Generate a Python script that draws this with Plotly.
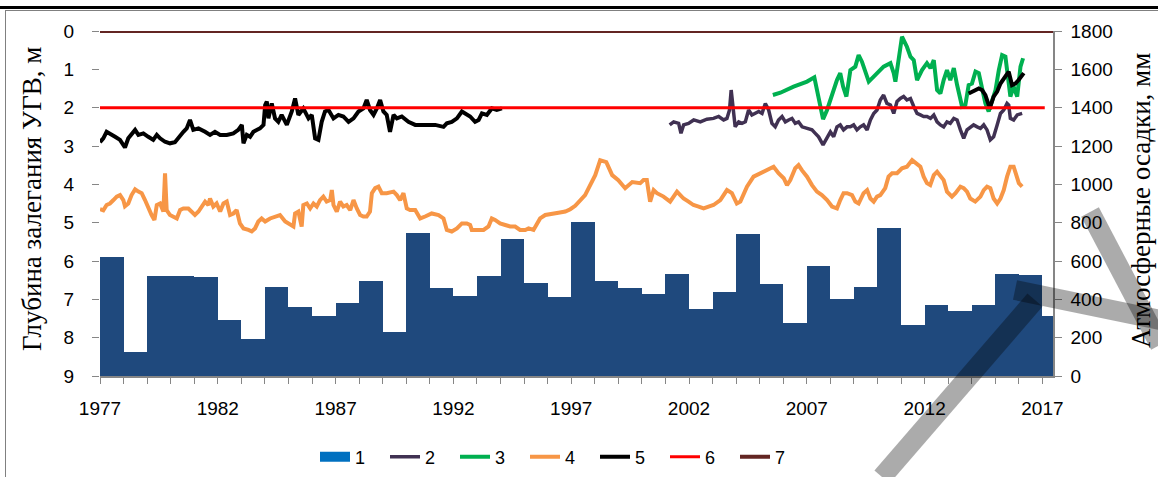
import plotly.graph_objects as go

# ---------------- data ----------------
bar_years = list(range(1977, 2018))
precip_mm = [622, 127, 523, 520, 515, 292, 193, 463, 358, 311,
             379, 496, 228, 745, 458, 416, 520, 713, 484, 411,
             802, 496, 458, 426, 532, 350, 437, 739, 478, 275,
             572, 400, 463, 771, 264, 369, 339, 369, 532, 525, 311]

s2_years = [2001.18, 2001.35, 2001.56, 2001.66, 2001.77, 2001.98, 2002.20, 2002.48, 2002.76, 2003.04,
            2003.26, 2003.47, 2003.61, 2003.72, 2003.79, 2003.87, 2003.96, 2004.11, 2004.25, 2004.39,
            2004.53, 2004.67, 2004.81, 2004.96, 2005.10, 2005.24, 2005.38, 2005.52, 2005.66, 2005.80,
            2005.95, 2006.09, 2006.23, 2006.37, 2006.51, 2006.65, 2006.80, 2007.01, 2007.22, 2007.36,
            2007.50, 2007.69, 2007.86, 2008.00, 2008.14, 2008.28, 2008.42, 2008.56, 2008.71, 2008.85,
            2008.99, 2009.13, 2009.27, 2009.41, 2009.56, 2009.70, 2009.84, 2009.98, 2010.12, 2010.26,
            2010.40, 2010.55, 2010.69, 2010.83, 2010.97, 2011.11, 2011.25, 2011.40, 2011.54, 2011.68,
            2011.82, 2011.96, 2012.10, 2012.25, 2012.39, 2012.53, 2012.67, 2012.81, 2012.95, 2013.09,
            2013.24, 2013.38, 2013.52, 2013.66, 2013.80, 2013.94, 2014.08, 2014.23, 2014.37, 2014.51,
            2014.65, 2014.79, 2014.93, 2015.08, 2015.22, 2015.36, 2015.50, 2015.57, 2015.64, 2015.78,
            2015.93, 2016.14]
s2_depth = [2.45, 2.37, 2.41, 2.67, 2.45, 2.41, 2.32, 2.37, 2.30, 2.28,
            2.23, 2.32, 2.28, 2.06, 1.54, 1.97, 2.50, 2.37, 2.41, 2.37,
            2.06, 2.19, 2.15, 2.10, 2.15, 1.89, 2.06, 2.41, 2.50, 2.32,
            2.23, 2.37, 2.32, 2.28, 2.41, 2.37, 2.50, 2.54, 2.58, 2.67,
            2.76, 2.97, 2.76, 2.63, 2.76, 2.50, 2.45, 2.58, 2.50, 2.50,
            2.45, 2.58, 2.50, 2.45, 2.58, 2.32, 2.15, 2.06, 1.80, 1.67,
            1.89, 1.93, 2.15, 1.84, 1.76, 1.71, 1.80, 1.76, 1.97, 2.15,
            2.19, 2.23, 2.23, 2.28, 2.19, 2.37, 2.45, 2.50, 2.37, 2.41,
            2.28, 2.32, 2.58, 2.80, 2.58, 2.50, 2.45, 2.50, 2.54, 2.45,
            2.58, 2.84, 2.76, 2.45, 2.15, 2.06, 1.89, 1.93, 2.28, 2.32,
            2.19, 2.15]

s3_years = [2005.56, 2005.88, 2006.44, 2007.01, 2007.32, 2007.50, 2007.69, 2007.86, 2008.07, 2008.28,
            2008.42, 2008.54, 2008.68, 2008.85, 2009.06, 2009.20, 2009.34, 2009.48, 2009.63, 2009.84,
            2010.05, 2010.26, 2010.55, 2010.69, 2010.76, 2010.90, 2011.04, 2011.25, 2011.40, 2011.54,
            2011.68, 2011.89, 2012.10, 2012.25, 2012.39, 2012.53, 2012.67, 2012.81, 2012.95, 2013.09,
            2013.24, 2013.38, 2013.59, 2013.73, 2013.87, 2014.01, 2014.16, 2014.30, 2014.44, 2014.58,
            2014.72, 2014.86, 2015.01, 2015.15, 2015.29, 2015.43, 2015.53, 2015.64, 2015.78, 2015.93,
            2016.07, 2016.18]
s3_depth = [1.67, 1.61, 1.45, 1.32, 1.21, 1.71, 2.30, 2.06, 1.63, 1.28,
            1.10, 1.45, 1.71, 1.02, 0.93, 0.63, 0.80, 1.02, 1.32, 1.19,
            1.06, 0.93, 0.84, 1.10, 1.32, 0.67, 0.15, 0.41, 0.67, 0.76,
            1.28, 1.02, 0.84, 0.97, 0.76, 1.54, 1.63, 1.28, 1.02, 1.28,
            0.97, 1.41, 1.97, 1.93, 1.41, 1.37, 1.06, 1.10, 1.50, 1.89,
            2.10, 1.80, 1.54, 1.02, 0.63, 0.67, 1.28, 1.71, 1.45, 1.71,
            0.93, 0.71]

s4_years = [1977.00, 1977.14, 1977.28, 1977.42, 1977.57, 1977.71, 1977.85, 1977.99, 1978.06, 1978.20,
            1978.34, 1978.49, 1978.63, 1978.77, 1978.91, 1979.05, 1979.19, 1979.31, 1979.41, 1979.55,
            1979.69, 1979.76, 1979.83, 1979.97, 1980.11, 1980.26, 1980.40, 1980.54, 1980.75, 1980.89,
            1981.03, 1981.18, 1981.32, 1981.46, 1981.60, 1981.67, 1981.81, 1981.95, 1982.10, 1982.24,
            1982.38, 1982.52, 1982.66, 1982.80, 1982.94, 1983.09, 1983.30, 1983.44, 1983.58, 1983.72,
            1983.86, 1984.01, 1984.22, 1984.43, 1984.64, 1984.86, 1985.07, 1985.21, 1985.28, 1985.42,
            1985.56, 1985.63, 1985.78, 1985.92, 1986.06, 1986.20, 1986.34, 1986.48, 1986.62, 1986.77,
            1986.84, 1986.91, 1987.05, 1987.19, 1987.33, 1987.47, 1987.62, 1987.76, 1987.90, 1988.04,
            1988.18, 1988.32, 1988.46, 1988.54, 1988.68, 1988.82, 1988.96, 1989.17, 1989.46, 1989.60,
            1989.74, 1989.88, 1990.02, 1990.16, 1990.38, 1990.59, 1990.80, 1991.08, 1991.37, 1991.58,
            1991.72, 1991.93, 1992.15, 1992.36, 1992.57, 1992.71, 1992.78, 1992.99, 1993.28, 1993.49,
            1993.63, 1993.77, 1993.98, 1994.20, 1994.41, 1994.62, 1994.83, 1995.05, 1995.19, 1995.40,
            1995.54, 1995.68, 1995.90, 1996.18, 1996.46, 1996.75, 1996.96, 1997.17, 1997.59, 1998.02,
            1998.23, 1998.49, 1998.74, 1999.00, 1999.29, 1999.59, 1999.93, 2000.07, 2000.21, 2000.35,
            2000.50, 2000.64, 2000.92, 2001.20, 2001.49, 2001.63, 2001.77, 2001.98, 2002.19, 2002.41,
            2002.62, 2002.83, 2003.04, 2003.33, 2003.61, 2003.82, 2004.03, 2004.18, 2004.46, 2004.74,
            2005.03, 2005.31, 2005.59, 2005.80, 2006.02, 2006.16, 2006.30, 2006.51, 2006.65, 2006.79,
            2007.01, 2007.22, 2007.43, 2007.64, 2007.86, 2008.07, 2008.28, 2008.42, 2008.56, 2008.71,
            2008.92, 2009.06, 2009.20, 2009.41, 2009.56, 2009.70, 2009.84, 2009.98, 2010.12, 2010.33,
            2010.47, 2010.62, 2010.83, 2011.04, 2011.25, 2011.47, 2011.61, 2011.82, 2011.96, 2012.10,
            2012.24, 2012.39, 2012.53, 2012.67, 2012.81, 2012.95, 2013.16, 2013.31, 2013.52, 2013.66,
            2013.80, 2013.94, 2014.15, 2014.37, 2014.51, 2014.65, 2014.79, 2014.93, 2015.08, 2015.22,
            2015.36, 2015.50, 2015.64, 2015.78, 2015.93, 2016.00, 2016.14]
s4_depth = [4.65, 4.68, 4.54, 4.50, 4.41, 4.32, 4.28, 4.41, 4.57, 4.50,
            4.28, 4.13, 4.19, 4.23, 4.41, 4.63, 4.80, 4.93, 4.54, 4.50,
            4.71, 3.71, 4.67, 4.80, 4.84, 4.89, 4.67, 4.63, 4.63, 4.71,
            4.80, 4.71, 4.58, 4.45, 4.54, 4.37, 4.58, 4.50, 4.71, 4.50,
            4.45, 4.80, 4.76, 4.67, 5.02, 5.15, 5.19, 5.23, 5.15, 4.97,
            4.89, 4.97, 4.89, 4.84, 4.80, 4.97, 5.06, 5.10, 4.76, 4.71,
            5.10, 4.54, 4.50, 4.63, 4.50, 4.58, 4.41, 4.32, 4.45, 4.41,
            4.15, 4.54, 4.71, 4.45, 4.58, 4.54, 4.67, 4.41, 4.63, 4.80,
            4.84, 4.84, 4.71, 4.23, 4.10, 4.06, 4.23, 4.23, 4.19, 4.28,
            4.41, 4.23, 4.63, 4.67, 4.67, 4.89, 4.84, 4.76, 4.80, 4.89,
            5.19, 5.23, 5.15, 5.02, 5.02, 5.06, 5.19, 5.19, 5.19, 5.10,
            4.89, 4.93, 5.02, 5.06, 5.10, 5.10, 5.19, 5.19, 5.15, 5.19,
            5.06, 4.89, 4.80, 4.76, 4.74, 4.71, 4.65, 4.56, 4.28, 3.76,
            3.37, 3.42, 3.76, 3.89, 4.10, 3.94, 3.97, 3.89, 3.89, 4.45,
            4.15, 4.23, 4.32, 4.45, 4.19, 4.28, 4.37, 4.45, 4.54, 4.58,
            4.63, 4.58, 4.54, 4.41, 4.15, 4.23, 4.50, 4.45, 4.06, 3.80,
            3.71, 3.63, 3.54, 3.71, 3.84, 4.02, 3.89, 3.58, 3.50, 3.63,
            3.80, 4.02, 4.19, 4.28, 4.41, 4.58, 4.63, 4.41, 4.23, 4.23,
            4.28, 4.45, 4.50, 4.23, 4.15, 4.37, 4.45, 4.32, 4.28, 4.10,
            3.80, 3.71, 3.71, 3.58, 3.54, 3.37, 3.45, 3.54, 3.80, 3.97,
            4.02, 3.76, 3.67, 3.80, 3.89, 4.19, 4.32, 4.23, 4.06, 4.10,
            4.19, 4.37, 4.45, 4.32, 4.15, 4.06, 4.10, 4.37, 4.50, 4.37,
            4.15, 3.80, 3.54, 3.54, 3.80, 3.97, 4.06]

s5_years = [1977.00, 1977.14, 1977.28, 1977.42, 1977.64, 1977.85, 1978.06, 1978.20, 1978.34, 1978.49,
            1978.63, 1978.84, 1979.05, 1979.26, 1979.41, 1979.55, 1979.76, 1979.97, 1980.18, 1980.40,
            1980.54, 1980.68, 1980.82, 1980.96, 1981.18, 1981.46, 1981.67, 1981.88, 1982.10, 1982.38,
            1982.66, 1982.87, 1983.02, 1983.09, 1983.23, 1983.37, 1983.51, 1983.65, 1983.79, 1983.94,
            1984.01, 1984.08, 1984.15, 1984.29, 1984.43, 1984.57, 1984.71, 1984.93, 1985.14, 1985.28,
            1985.42, 1985.63, 1985.85, 1985.99, 1986.13, 1986.27, 1986.41, 1986.55, 1986.70, 1986.91,
            1987.12, 1987.33, 1987.55, 1987.76, 1987.97, 1988.18, 1988.32, 1988.46, 1988.61, 1988.75,
            1988.89, 1989.03, 1989.17, 1989.31, 1989.46, 1989.60, 1989.81, 1990.09, 1990.38, 1990.80,
            1991.23, 1991.58, 1991.72, 1991.93, 1992.15, 1992.36, 1992.50, 1992.71, 1992.92, 1993.07,
            1993.21, 1993.42, 1993.63, 1993.84, 1994.06, None,
            2013.87, 2014.08, 2014.30, 2014.44, 2014.58, 2014.72, 2014.79, 2014.93, 2015.08, 2015.22,
            2015.36, 2015.50, 2015.57, 2015.71, 2015.85, 2015.99, 2016.14, 2016.21]
s5_depth = [2.90, 2.80, 2.63, 2.67, 2.76, 2.84, 3.04, 2.80, 2.71, 2.58,
            2.71, 2.67, 2.76, 2.84, 2.71, 2.80, 2.89, 2.93, 2.90, 2.71,
            2.63, 2.54, 2.32, 2.58, 2.54, 2.63, 2.71, 2.63, 2.71, 2.71,
            2.67, 2.58, 2.45, 2.93, 2.71, 2.76, 2.63, 2.58, 2.54, 2.45,
            1.93, 1.84, 2.28, 1.89, 2.28, 2.37, 2.19, 2.45, 2.10, 1.76,
            2.19, 2.02, 2.28, 2.19, 2.80, 2.84, 2.37, 2.10, 2.06, 2.28,
            2.19, 2.23, 2.37, 2.28, 2.10, 2.02, 1.80, 2.06, 2.19, 2.02,
            1.80, 2.10, 2.19, 2.63, 2.19, 2.28, 2.23, 2.37, 2.45, 2.45,
            2.45, 2.50, 2.41, 2.37, 2.28, 2.10, 2.15, 2.23, 2.37, 2.32,
            2.15, 2.19, 2.02, 2.06, 2.02, None,
            1.63, 1.58, 1.50, 1.54, 1.67, 1.93, 1.97, 1.71, 1.58, 1.37,
            1.23, 1.10, 1.06, 1.41, 1.37, 1.28, 1.15, 1.10]

s6_years = [1977, 2017.1]
s6_depth = [2, 2]
s7_years = [1977, 2017.45]
s7_depth = [0, 0]

legend_names = ["1", "2", "3", "4", "5", "6", "7"]
colors = {"bar": "#1F497D", "bar_legend": "#0070C0", "2": "#403152", "3": "#00B050",
          "4": "#F79646", "5": "#000000", "6": "#FF0000", "7": "#632523"}

left_title = "Глубина залегания УГВ, м"
right_title = "Атмосферные осадки, мм"

# ---------------- figure ----------------
fig = go.Figure()

# bars (precipitation) on primary y (right side)
fig.add_trace(go.Bar(x=[y + 0.5 for y in bar_years], y=precip_mm, width=1,
                     marker=dict(color=colors["bar"], line=dict(width=0)),
                     showlegend=False, yaxis="y", name="1"))
# legend entry for bars (wide swatch)
fig.add_trace(go.Scatter(x=[None], y=[None], name=legend_names[0], yaxis="y", mode="lines",
                         line=dict(color=colors["bar_legend"], width=12)))

line_series = [
    (legend_names[1], s2_years, s2_depth, colors["2"], 3.5),
    (legend_names[2], s3_years, s3_depth, colors["3"], 4),
    (legend_names[3], s4_years, s4_depth, colors["4"], 4),
    (legend_names[4], s5_years, s5_depth, colors["5"], 4),
    (legend_names[5], s6_years, s6_depth, colors["6"], 3),
    (legend_names[6], s7_years, s7_depth, colors["7"], 4),
]
for name, xs, ys, col, w in line_series:
    fig.add_trace(go.Scatter(x=xs, y=ys, name=name, mode="lines", yaxis="y2",
                             line=dict(color=col, width=w), connectgaps=False))

axis_gray = "#868686"
tick_font = dict(family="Liberation Sans, Arial, sans-serif", size=19, color="#000000")


def px_x(px):
    return (px - 100) / 953


def px_y(py):
    return (376 - py) / 345


# faint watermark strokes (semi-transparent) seen over the lower-right corner
wm = "rgba(0,0,0,0.33)"
watermark = [
    dict(type="line", xref="paper", yref="paper", layer="above",
         x0=px_x(1090), y0=px_y(212), x1=px_x(1160), y1=px_y(345), line=dict(color=wm, width=20)),
    dict(type="line", xref="paper", yref="paper", layer="above",
         x0=px_x(1015), y0=px_y(290), x1=px_x(1160), y1=px_y(320), line=dict(color=wm, width=20)),
    dict(type="line", xref="paper", yref="paper", layer="above",
         x0=px_x(1035), y0=px_y(300), x1=px_x(882), y1=px_y(477), line=dict(color=wm, width=20)),
]

fig.update_layout(
    width=1158, height=477,
    margin=dict(l=100, r=105, t=31, b=101, autoexpand=False),
    paper_bgcolor="white", plot_bgcolor="white",
    bargap=0,
    showlegend=True,
    xaxis=dict(range=[1977, 2017.45], tick0=1977, dtick=5, showgrid=False, zeroline=False,
               showline=True, linecolor=axis_gray, linewidth=1.5,
               ticks="outside", ticklen=6, tickcolor=axis_gray, tickfont=tick_font,
               ticklabelstandoff=8,
               minor=dict(dtick=1, tick0=1977, ticks="outside", ticklen=6, tickcolor=axis_gray)),
    yaxis=dict(range=[0, 1800], dtick=200, side="right", showgrid=False, zeroline=False,
               showline=True, linecolor=axis_gray, linewidth=1.5,
               ticks="outside", ticklen=7, tickcolor=axis_gray, tickfont=tick_font,
               ticklabelstandoff=5),
    yaxis2=dict(range=[9, 0], dtick=1, side="left", overlaying="y", showgrid=False,
                zeroline=False, showline=False,
                ticks="outside", ticklen=7, tickcolor=axis_gray, tickfont=tick_font,
                ticklabelstandoff=14),
    legend=dict(orientation="h", xref="container", yref="container",
                x=315 / 1158, xanchor="left", y=(477 - 457) / 477, yanchor="middle",
                font=dict(family="Liberation Sans, Arial, sans-serif", size=18, color="#000000"),
                entrywidth=25, entrywidthmode="pixels", traceorder="normal",
                bgcolor="rgba(0,0,0,0)"),
    annotations=[
        dict(text=left_title, textangle=-90, xref="paper", yref="paper",
             x=px_x(32), y=px_y(199), showarrow=False,
             xanchor="center", yanchor="middle",
             font=dict(family="Liberation Serif, Times New Roman, serif", size=27, color="#000000")),
        dict(text=right_title, textangle=-90, xref="paper", yref="paper",
             x=px_x(1141), y=px_y(201), showarrow=False,
             xanchor="center", yanchor="middle",
             font=dict(family="Liberation Serif, Times New Roman, serif", size=27, color="#000000")),
    ],
    shapes=[
        # thick black rule at very top
        dict(type="line", xref="paper", yref="paper",
             x0=px_x(0), x1=px_x(1158), y0=px_y(7.5), y1=px_y(7.5),
             line=dict(color="#000000", width=3)),
        # frame top and left
        dict(type="line", xref="paper", yref="paper",
             x0=px_x(5), x1=px_x(1158), y0=px_y(10.5), y1=px_y(10.5),
             line=dict(color="#808080", width=1)),
        dict(type="line", xref="paper", yref="paper",
             x0=px_x(5.5), x1=px_x(5.5), y0=px_y(10), y1=px_y(477),
             line=dict(color="#808080", width=1)),
    ] + watermark,
)

fig.write_html("out.html", config={"displayModeBar": False},
               post_script="document.body.style.margin='0';document.body.style.padding='0';"
                           "document.body.style.overflow='hidden';")
